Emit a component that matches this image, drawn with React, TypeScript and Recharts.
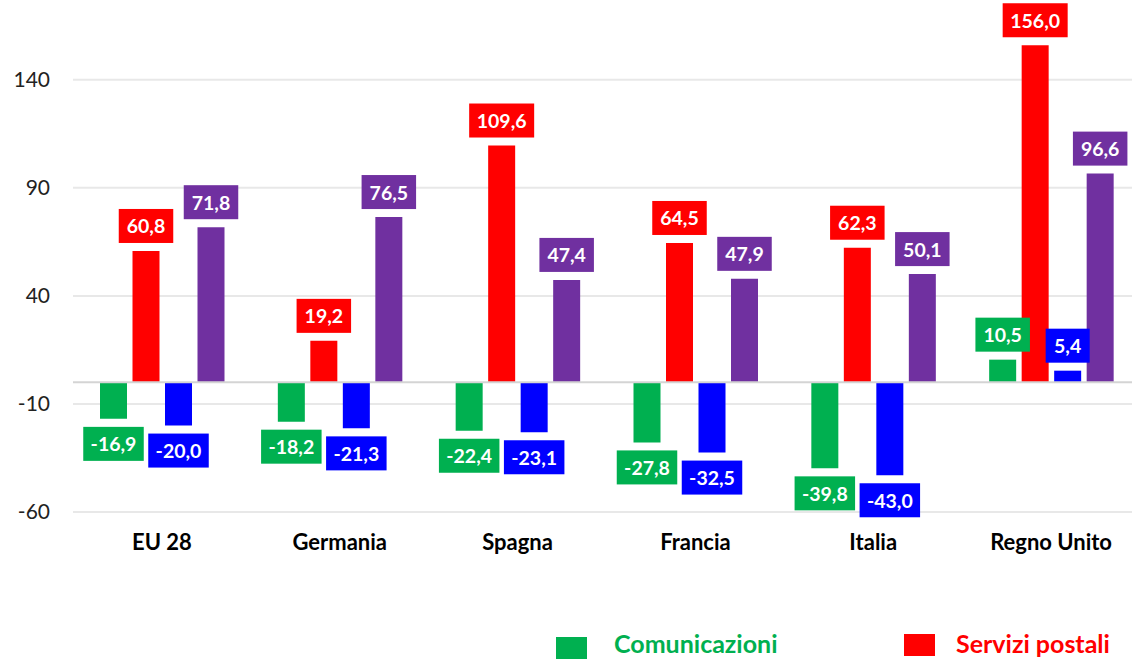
import React from "react";
import {
  BarChart,
  Bar,
  XAxis,
  YAxis,
  CartesianGrid,
  ReferenceLine,
  LabelList,
} from "recharts";

const categories = ["EU 28", "Germania", "Spagna", "Francia", "Italia", "Regno Unito"];
const comunicazioni = [-16.9, -18.2, -22.4, -27.8, -39.8, 10.5];
const serviziPostali = [60.8, 19.2, 109.6, 64.5, 62.3, 156.0];
const serie3 = [-20.0, -21.3, -23.1, -32.5, -43.0, 5.4];
const serie4 = [71.8, 76.5, 47.4, 47.9, 50.1, 96.6];
const yTicks = [-60, -10, 40, 90, 140];
const Y_MIN = -60;
const Y_MAX = 170;

const GREEN = "#00B050";
const RED = "#FF0000";
const BLUE = "#0000FF";
const PURPLE = "#7030A0";
const FONT = "Lato, 'Open Sans', sans-serif";

const data = categories.map((name, i) => ({
  name,
  com: comunicazioni[i],
  post: serviziPostali[i],
  s3: serie3[i],
  s4: serie4[i],
}));

const fmt = (v: number) => v.toFixed(1).replace(".", ",");

// grid lines only at the axis ticks (no line at the top of the domain)
const gridRows = (p: any) => {
  const sc = p?.yAxis?.scale;
  if (typeof sc === "function") return yTicks.map((t) => sc(t));
  const top = p?.offset?.top ?? 15;
  const h = p?.offset?.height ?? 497;
  return yTicks.map((t) => top + ((Y_MAX - t) / (Y_MAX - Y_MIN)) * h);
};

// boxed value label: above positive bars, below negative ones
function makeLabel(color: string) {
  return (props: any) => {
    const { x, y, width, height, value } = props;
    if (value == null) return null;
    const text = fmt(Number(value));
    const digits = text.replace(/[^0-9]/g, "").length;
    const w = digits * 10.5 + 4 + (text.startsWith("-") ? 6 : 0) + 19;
    const h = 34;
    const gap = 8;
    const top = Math.min(y, y + height);
    const bottom = Math.max(y, y + height);
    const cx = x + width / 2;
    const by = value >= 0 ? top - gap - h : bottom + gap;
    return (
      <g>
        <rect x={cx - w / 2} y={by} width={w} height={h} fill={color} />
        <text
          x={cx}
          y={by + h / 2}
          textAnchor="middle"
          dominantBaseline="central"
          fill="#fff"
          fontFamily={FONT}
          fontWeight={700}
          fontSize={19.5}
        >
          {text}
        </text>
      </g>
    );
  };
}

const legendItems = [
  { label: "Comunicazioni", color: GREEN, left: 556, top: 637, textLeft: 614 },
  { label: "Servizi postali", color: RED, left: 904, top: 634, textLeft: 956 },
];

export default function App() {
  return (
    <div
      style={{
        position: "absolute",
        left: 0,
        top: 0,
        width: 1132,
        height: 661,
        overflow: "hidden",
        background: "#fff",
      }}
    >
      <BarChart
        width={1140}
        height={560}
        data={data}
        margin={{ top: 15, right: 0, bottom: 0, left: 0 }}
        barSize={27}
        barGap={5.5}
      >
        <CartesianGrid
          vertical={false}
          stroke="#e8e8e8"
          strokeWidth={2}
          horizontalCoordinatesGenerator={gridRows}
        />
        <XAxis
          dataKey="name"
          axisLine={false}
          tickLine={false}
          tickSize={0}
          tickMargin={22}
          height={48}
          tick={{ fill: "#000", fontFamily: FONT, fontWeight: 700, fontSize: 22 }}
        />
        <YAxis
          width={73}
          domain={[Y_MIN, Y_MAX]}
          ticks={yTicks}
          axisLine={false}
          tickLine={false}
          tickSize={0}
          tickMargin={23}
          tick={{ fill: "#222", fontFamily: FONT, fontSize: 21 }}
        />
        <ReferenceLine y={0} stroke="#d4d4d4" strokeWidth={2} />
        <Bar dataKey="com" fill={GREEN} isAnimationActive={false}>
          <LabelList dataKey="com" content={makeLabel(GREEN)} />
        </Bar>
        <Bar dataKey="post" fill={RED} isAnimationActive={false}>
          <LabelList dataKey="post" content={makeLabel(RED)} />
        </Bar>
        <Bar dataKey="s3" fill={BLUE} isAnimationActive={false}>
          <LabelList dataKey="s3" content={makeLabel(BLUE)} />
        </Bar>
        <Bar dataKey="s4" fill={PURPLE} isAnimationActive={false}>
          <LabelList dataKey="s4" content={makeLabel(PURPLE)} />
        </Bar>
      </BarChart>
      {legendItems.map((it) => (
        <div key={it.label}>
          <div
            style={{
              position: "absolute",
              left: it.left,
              top: it.top,
              width: 31,
              height: 22,
              background: it.color,
            }}
          />
          <div
            style={{
              position: "absolute",
              left: it.textLeft,
              top: 628,
              fontFamily: FONT,
              fontWeight: 700,
              fontSize: 25,
              lineHeight: "30px",
              color: it.color,
              whiteSpace: "nowrap",
            }}
          >
            {it.label}
          </div>
        </div>
      ))}
    </div>
  );
}
